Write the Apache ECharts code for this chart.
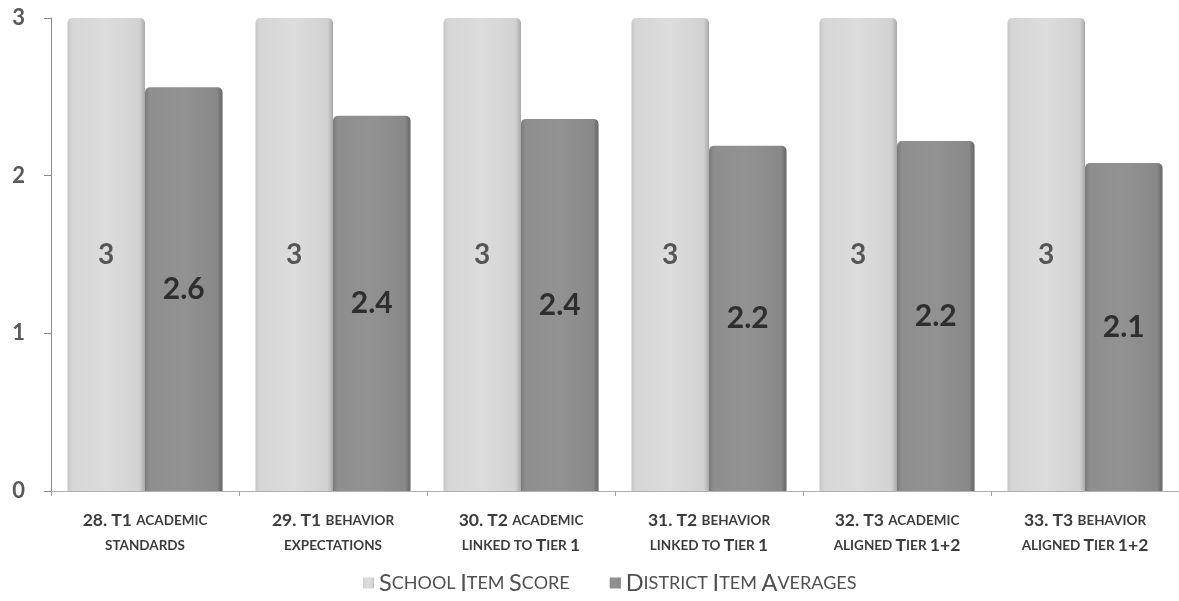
<!DOCTYPE html>
<html><head><meta charset="utf-8">
<script src="https://cdn.jsdelivr.net/npm/echarts@6/dist/echarts.min.js"></script>
<style>html,body{margin:0;padding:0;background:#fff}#c{width:1179px;height:601px}</style>
</head><body><div id="c"></div>
<script>
var categories = [
  "28. T1 academic\nstandards",
  "29. T1 behavior\nexpectations",
  "30. T2 academic\nlinked to Tier 1",
  "31. T2 behavior\nlinked to Tier 1",
  "32. T3 academic\naligned Tier 1+2",
  "33. T3 behavior\naligned Tier 1+2"
];
var seriesNames = ["School Item Score", "District Item Averages"];
var schoolScores = [3, 3, 3, 3, 3, 3];
var districtAverages = [2.56, 2.38, 2.36, 2.19, 2.22, 2.08];
var yTicks = [0, 1, 2, 3];

function smallCaps(str, big, small) {
  return str.split('\n').map(function (line) {
    var out = '', run = '', cls = null;
    for (var i = 0; i < line.length; i++) {
      var ch = line[i];
      var c = (ch >= 'a' && ch <= 'z') ? small : big;
      if (ch === ' ' && cls) c = cls;
      if (cls !== null && c !== cls) { out += '{' + cls + '|' + run.toUpperCase() + '}'; run = ''; }
      cls = c; run += ch;
    }
    if (run) out += '{' + cls + '|' + run.toUpperCase() + '}';
    return out;
  }).join('\n');
}

var FONT = 'Lato';
var chart = echarts.init(document.getElementById('c'), null, {renderer: 'canvas'});
chart.setOption({
  animation: false,
  backgroundColor: '#ffffff',
  grid: {left: 51, width: 1134, top: 18, bottom: 110, containLabel: false},
  legend: {
    top: 566, left: 358, itemWidth: 11, itemHeight: 11, itemGap: 40,
    icon: 'rect',
    data: seriesNames,
    formatter: function (n) { return smallCaps(n, 'b', 's'); },
    textStyle: {
      color: '#505050', fontFamily: FONT, padding: [0, 0, 0, 0],
      rich: {
        b: {fontSize: 23.5, fontFamily: FONT, color: '#505050', fontWeight: 'normal'},
        s: {fontSize: 18, fontFamily: FONT, color: '#505050', fontWeight: 'normal'}
      }
    }
  },
  xAxis: {
    type: 'category', data: categories,
    axisLine: {show: true, lineStyle: {color: '#b0b0b0', width: 1}},
    axisTick: {show: true, length: 5, lineStyle: {color: '#a0a0a0'}},
    axisLabel: {
      margin: 17, interval: 0, lineHeight: 25,
      formatter: function (v) { return smallCaps(v, 'b', 's'); },
      rich: {
        b: {fontSize: 17.5, fontWeight: 'bold', fontFamily: FONT, color: '#3c3c3c', lineHeight: 25},
        s: {fontSize: 13.5, fontWeight: 'bold', fontFamily: FONT, color: '#3c3c3c', lineHeight: 25}
      }
    }
  },
  yAxis: {
    type: 'value', min: 0, max: 3, interval: 1,
    axisLine: {show: true, lineStyle: {color: '#8a8a8a', width: 1}},
    axisTick: {show: true, length: 7, lineStyle: {color: '#8a8a8a'}},
    splitLine: {show: false},
    axisLabel: {
      margin: 26, fontSize: 22, color: '#595959', fontFamily: FONT, fontWeight: 'bold',
      formatter: function (v) { return yTicks.indexOf(v) >= 0 ? String(v) : ''; }
    }
  },
  series: [
    {
      name: seriesNames[0], type: 'bar', data: schoolScores,
      barGap: '0%', barCategoryGap: '17.5%',
      itemStyle: {
        color: new echarts.graphic.LinearGradient(0, 0, 1, 0, [
          {offset: 0, color: '#c6c6c6'}, {offset: 0.06, color: '#d6d6d6'},
          {offset: 0.5, color: '#dcdcdc'}, {offset: 0.93, color: '#d2d2d2'},
          {offset: 1, color: '#a9a9a9'}
        ]),
        borderRadius: [5, 5, 0, 0]
      },
      label: {
        show: true, position: 'inside', fontSize: 28, fontWeight: 'bold',
        fontFamily: FONT, color: '#555555',
        formatter: function (p) { return Number(p.value).toFixed(0); }
      }
    },
    {
      name: seriesNames[1], type: 'bar', data: districtAverages,
      itemStyle: {
        color: new echarts.graphic.LinearGradient(0, 0, 1, 0, [
          {offset: 0, color: '#7a7a7a'}, {offset: 0.06, color: '#8e8e8e'},
          {offset: 0.5, color: '#929292'}, {offset: 0.93, color: '#888888'},
          {offset: 1, color: '#666666'}
        ]),
        borderRadius: [5, 5, 0, 0]
      },
      label: {
        show: true, position: 'inside', fontSize: 30, fontWeight: 'bold',
        fontFamily: FONT, color: '#2e2e2e',
        formatter: function (p) { return Number(p.value).toFixed(1); }
      }
    }
  ]
});
</script></body></html>
